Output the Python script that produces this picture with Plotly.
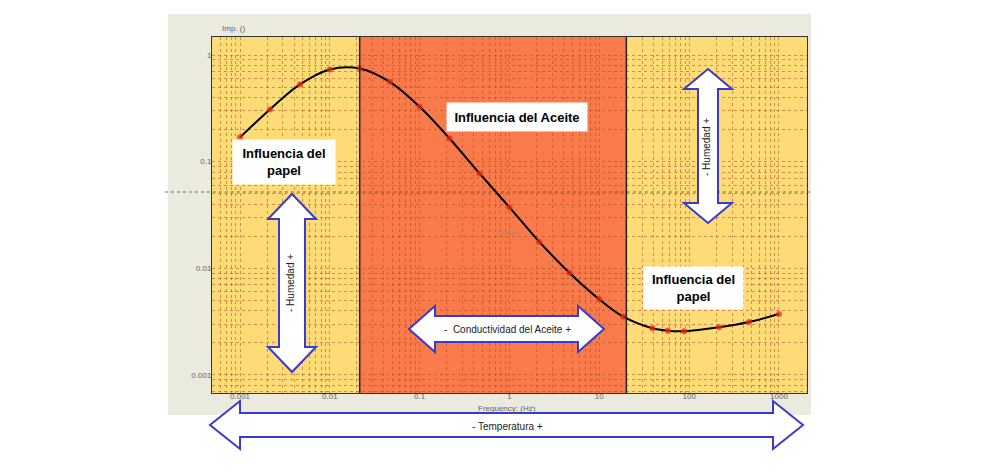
#Recreating the dielectric response (FDS) chart with its influence regions
import plotly.graph_objects as go

#Measured points (frequency in Hz, impedance-like value)
freq = [0.001, 0.00215, 0.00464, 0.01, 0.0215, 0.0464, 0.1, 0.215, 0.464, 1,
        2.15, 4.64, 10, 18.5, 39, 58, 88, 215, 464, 1000]
value = [0.169, 0.309, 0.53, 0.733, 0.748, 0.561, 0.327, 0.165, 0.0776, 0.0373,
         0.0177, 0.0091, 0.00512, 0.00352, 0.00274, 0.0026, 0.00257, 0.0028, 0.00314, 0.00373]

#Cursor cross
cursor_x = [1]
cursor_y = [0.0213]

#Region limits (oil region in the middle)
oil_region = [0.0215, 20]

x_ticks = [0.001, 0.01, 0.1, 1, 10, 100, 1000]
x_tick_text = ['0.001', '0.01', '0.1', '1', '10', '100', '1000']
y_ticks = [1, 0.1, 0.01, 0.001]
y_tick_text = ['1', '0.1', '0.01', '0.001']

#minor grid positions (2..9 in every decade)
x_minor = [m * 10.0 ** e for e in range(-4, 4) for m in range(2, 10)]
y_minor = [m * 10.0 ** e for e in range(-4, 1) for m in range(2, 10)]

#plot area in pixels of the screenshot (left, right, top, bottom)
L, R, T, B = 212, 807, 37, 393
PAGE = 8  #body margin of the html page


def px(x):
    return (x - L) / (R - L)


def py(y):
    return (B - y) / (B - T)


def h_arrow(x1, x2, yc, hl, hh, sh):
    pts = [(x1, yc), (x1 + hl, yc - hh), (x1 + hl, yc - sh), (x2 - hl, yc - sh),
           (x2 - hl, yc - hh), (x2, yc), (x2 - hl, yc + hh), (x2 - hl, yc + sh),
           (x1 + hl, yc + sh), (x1 + hl, yc + hh)]
    return 'M ' + ' L '.join('%.4f,%.4f' % (px(a), py(b)) for a, b in pts) + ' Z'


def v_arrow(xc, y1, y2, hl, hh, sh):
    pts = [(xc, y1), (xc + hh, y1 + hl), (xc + sh, y1 + hl), (xc + sh, y2 - hl),
           (xc + hh, y2 - hl), (xc, y2), (xc - hh, y2 - hl), (xc - sh, y2 - hl),
           (xc - sh, y1 + hl), (xc - hh, y1 + hl)]
    return 'M ' + ' L '.join('%.4f,%.4f' % (px(a), py(b)) for a, b in pts) + ' Z'


fig = go.Figure()

fig.add_trace(go.Scatter(x=freq, y=value, mode='lines',
                         line=dict(color='black', width=2, shape='spline', smoothing=1),
                         hoverinfo='skip'))
fig.add_trace(go.Scatter(x=freq, y=value, mode='markers',
                         marker=dict(color='rgba(235,40,20,0.75)', size=6)))
fig.add_trace(go.Scatter(x=cursor_x, y=cursor_y, mode='markers',
                         marker=dict(symbol='cross-thin-open', size=12,
                                     line=dict(color='rgba(200,30,30,0.8)', width=1))))

arrow_style = dict(type='path', xref='paper', yref='paper', fillcolor='white',
                   line=dict(color='#3a3acc', width=2), layer='above')

shapes = [
    #gray window background
    dict(type='rect', xref='paper', yref='paper', x0=px(168), x1=px(811), y0=py(415), y1=py(14),
         fillcolor='#ebeadf', line=dict(width=0), layer='below'),
    #yellow plot area (paper regions)
    dict(type='rect', xref='paper', yref='paper', x0=0, x1=1, y0=0, y1=1,
         fillcolor='#fddc78', line=dict(width=0), layer='below'),
    #oil region
    dict(type='rect', xref='x', yref='paper', x0=oil_region[0], x1=oil_region[1], y0=0, y1=1,
         fillcolor='#f97a4a', line=dict(width=0), layer='below'),
    dict(type='line', xref='x', yref='paper', x0=oil_region[0], x1=oil_region[0], y0=0, y1=1,
         line=dict(color='#222', width=1.5)),
    dict(type='line', xref='x', yref='paper', x0=oil_region[1], x1=oil_region[1], y0=0, y1=1,
         line=dict(color='#222', width=1.5)),
    #thin separator line
    dict(type='line', xref='paper', yref='paper', x0=px(165), x1=px(810), y0=py(192), y1=py(192),
         line=dict(color='rgba(80,80,80,0.8)', width=1, dash='dot')),
    dict(path=h_arrow(210, 803, 425, 30, 24, 12), **arrow_style),
    dict(path=h_arrow(409, 604, 329, 26, 23, 13), **arrow_style),
    dict(path=v_arrow(292, 194, 372, 25, 24, 13), **arrow_style),
    dict(path=v_arrow(708, 69, 223, 20, 24, 10), **arrow_style),
]

box_font = dict(family='Liberation Sans', size=13, color='black')
arrow_font = dict(family='Liberation Sans', size=10, color='#222')
small_font = dict(family='Liberation Sans', size=8, color='#666')

annotations = [
    dict(x=px(284), y=py(162), text='<b>Influencia del<br>papel</b>', font=box_font,
         bgcolor='white', width=100, height=42),
    dict(x=px(517), y=py(117), text='<b>Influencia del Aceite</b>', font=box_font,
         bgcolor='white', width=138, height=26),
    dict(x=px(693), y=py(288), text='<b>Influencia del<br>papel</b>', font=box_font,
         bgcolor='white', width=97, height=40),
    dict(x=px(507), y=py(329), text='-  Conductividad del Aceite +', font=arrow_font),
    dict(x=px(507), y=py(426), text='- Temperatura +', font=arrow_font),
    dict(x=px(290), y=py(283), text='- Humedad +', font=arrow_font, textangle=-90),
    dict(x=px(706), y=py(147), text='- Humedad +', font=arrow_font, textangle=-90),
    dict(x=px(507), y=py(408), text='Frequency: (Hz)', font=small_font),
    dict(x=px(233), y=py(29), text='Imp. ()', font=small_font),
]
for a in annotations:
    a.update(xref='paper', yref='paper', showarrow=False, xanchor='center', yanchor='middle')

grid = dict(gridcolor='rgba(175,75,30,0.55)', griddash='dot', gridwidth=1)

fig.update_layout(
    width=1000, height=472,
    margin=dict(l=L - PAGE, r=1000 - R + PAGE, t=T - PAGE, b=472 - B + PAGE),
    paper_bgcolor='white',
    plot_bgcolor='#fddc78',
    showlegend=False,
    shapes=shapes,
    annotations=annotations,
)
fig.update_xaxes(type='log', range=[-3.312, 3.312], tickvals=x_ticks, ticktext=x_tick_text,
                 tickfont=small_font, ticks='', ticklabelstandoff=-5, showline=True, mirror=True,
                 linecolor='#333', linewidth=1, zeroline=False,
                 minor=dict(showgrid=True, ticks='', tickvals=x_minor, **grid), **grid)
fig.update_yaxes(type='log', range=[-3.169, 0.169], tickvals=y_ticks, ticktext=y_tick_text,
                 tickfont=small_font, ticks='', ticklabelstandoff=-2, showline=True, mirror=True,
                 linecolor='#333', linewidth=1, zeroline=False,
                 minor=dict(showgrid=True, ticks='', tickvals=y_minor, **grid), **grid)

fig.write_html("out.html")
